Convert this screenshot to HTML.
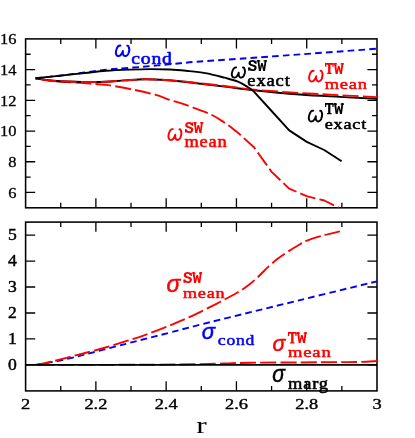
<!DOCTYPE html>
<html><head><meta charset="utf-8"><title>chart</title>
<style>html,body{margin:0;padding:0;background:#fff;}svg{display:block;}svg{will-change:transform;}</style></head><body>
<svg width="415" height="438" viewBox="0 0 415 438">
<rect x="0" y="0" width="415" height="438" fill="#ffffff"/>
<g fill="none" stroke="#000" stroke-width="1.55">
<rect x="25.6" y="38.9" width="351.40" height="168.90"/>
<rect x="25.6" y="222.1" width="351.40" height="168.80"/>
<path d="M60.74 38.90v5M60.74 207.80v-5M60.74 222.10v5M60.74 390.90v-5M95.88 38.90v9.6M95.88 207.80v-9.6M95.88 222.10v9.6M95.88 390.90v-9.6M131.02 38.90v5M131.02 207.80v-5M131.02 222.10v5M131.02 390.90v-5M166.16 38.90v9.6M166.16 207.80v-9.6M166.16 222.10v9.6M166.16 390.90v-9.6M201.30 38.90v5M201.30 207.80v-5M201.30 222.10v5M201.30 390.90v-5M236.44 38.90v9.6M236.44 207.80v-9.6M236.44 222.10v9.6M236.44 390.90v-9.6M271.58 38.90v5M271.58 207.80v-5M271.58 222.10v5M271.58 390.90v-5M306.72 38.90v9.6M306.72 207.80v-9.6M306.72 222.10v9.6M306.72 390.90v-9.6M341.86 38.90v5M341.86 207.80v-5M341.86 222.10v5M341.86 390.90v-5M25.60 192.45h9.6M377.00 192.45h-9.6M25.60 177.09h5M377.00 177.09h-5M25.60 161.74h9.6M377.00 161.74h-9.6M25.60 146.38h5M377.00 146.38h-5M25.60 131.03h9.6M377.00 131.03h-9.6M25.60 115.67h5M377.00 115.67h-5M25.60 100.32h9.6M377.00 100.32h-9.6M25.60 84.96h5M377.00 84.96h-5M25.60 69.61h9.6M377.00 69.61h-9.6M25.60 54.25h5M377.00 54.25h-5M25.60 364.93h9.6M377.00 364.93h-9.6M25.60 338.96h9.6M377.00 338.96h-9.6M25.60 312.99h9.6M377.00 312.99h-9.6M25.60 287.02h9.6M377.00 287.02h-9.6M25.60 261.05h9.6M377.00 261.05h-9.6M25.60 235.08h9.6M377.00 235.08h-9.6" stroke-width="1.3"/>
</g>
<g fill="#000">
<text transform="matrix(1.0300 0 0 0.9500 0.02 44.20)" font-family="Liberation Serif" font-size="16" stroke="#000" stroke-width="0.3">16</text>
<text transform="matrix(1.0300 0 0 0.9500 0.02 74.91)" font-family="Liberation Serif" font-size="16" stroke="#000" stroke-width="0.3">14</text>
<text transform="matrix(1.0300 0 0 0.9500 0.02 105.62)" font-family="Liberation Serif" font-size="16" stroke="#000" stroke-width="0.3">12</text>
<text transform="matrix(1.0300 0 0 0.9500 0.02 136.33)" font-family="Liberation Serif" font-size="16" stroke="#000" stroke-width="0.3">10</text>
<text transform="matrix(1.0300 0 0 0.9500 8.26 167.04)" font-family="Liberation Serif" font-size="16" stroke="#000" stroke-width="0.3">8</text>
<text transform="matrix(1.0300 0 0 0.9500 8.26 197.75)" font-family="Liberation Serif" font-size="16" stroke="#000" stroke-width="0.3">6</text>
<text transform="matrix(1.1000 0 0 1.0100 8.10 370.03)" font-family="Liberation Serif" font-size="16" stroke="#000" stroke-width="0.42">0</text>
<text transform="matrix(1.1000 0 0 1.0100 8.10 344.06)" font-family="Liberation Serif" font-size="16" stroke="#000" stroke-width="0.42">1</text>
<text transform="matrix(1.1000 0 0 1.0100 8.10 318.09)" font-family="Liberation Serif" font-size="16" stroke="#000" stroke-width="0.42">2</text>
<text transform="matrix(1.1000 0 0 1.0100 8.10 292.12)" font-family="Liberation Serif" font-size="16" stroke="#000" stroke-width="0.42">3</text>
<text transform="matrix(1.1000 0 0 1.0100 8.10 266.15)" font-family="Liberation Serif" font-size="16" stroke="#000" stroke-width="0.42">4</text>
<text transform="matrix(1.1000 0 0 1.0100 8.10 240.18)" font-family="Liberation Serif" font-size="16" stroke="#000" stroke-width="0.42">5</text>
<text transform="matrix(1.1500 0 0 0.9000 21.00 408.90)" font-family="Liberation Serif" font-size="16" stroke="#000" stroke-width="0.42">2</text>
<text transform="matrix(1.1500 0 0 0.9000 84.38 408.90)" font-family="Liberation Serif" font-size="16" stroke="#000" stroke-width="0.42">2.2</text>
<text transform="matrix(1.1500 0 0 0.9000 154.66 408.90)" font-family="Liberation Serif" font-size="16" stroke="#000" stroke-width="0.42">2.4</text>
<text transform="matrix(1.1500 0 0 0.9000 224.94 408.90)" font-family="Liberation Serif" font-size="16" stroke="#000" stroke-width="0.42">2.6</text>
<text transform="matrix(1.1500 0 0 0.9000 295.22 408.90)" font-family="Liberation Serif" font-size="16" stroke="#000" stroke-width="0.42">2.8</text>
<text transform="matrix(1.1500 0 0 0.9000 372.40 408.90)" font-family="Liberation Serif" font-size="16" stroke="#000" stroke-width="0.42">3</text>
</g>
<g fill="none" stroke-width="1.9" stroke-linejoin="round">
<path d="M35.60 78.30C41.33 77.65 58.27 75.82 70.00 74.40C81.73 72.98 95.33 70.95 106.00 69.80C116.67 68.65 125.33 68.23 134.00 67.50C142.67 66.77 150.33 66.10 158.00 65.40C165.67 64.70 173.50 63.92 180.00 63.30C186.50 62.68 187.00 62.47 197.00 61.70C207.00 60.93 222.83 59.92 240.00 58.70C257.17 57.48 277.17 56.07 300.00 54.40C322.83 52.73 364.17 49.65 377.00 48.70" stroke="#0000ff" stroke-dasharray="6.65 4.15"/>
<path d="M35.60 78.30C37.67 78.65 43.93 79.85 48.00 80.40C52.07 80.95 55.50 81.23 60.00 81.60C64.50 81.97 70.00 82.27 75.00 82.60C80.00 82.93 84.83 83.22 90.00 83.60C95.17 83.98 99.33 84.00 106.00 84.90C112.67 85.80 121.83 87.37 130.00 89.00C138.17 90.63 148.40 92.90 155.00 94.70C161.60 96.50 164.43 98.10 169.60 99.80C174.77 101.50 179.25 102.52 186.00 104.90C192.75 107.28 203.77 111.20 210.10 114.10C216.43 117.00 219.62 119.42 224.00 122.30C228.38 125.18 234.33 129.88 236.40 131.40L254.0 147.3L271.4 171.6L289.2 188.6L306.7 196.2L324.3 200.5L338.6 207.6" stroke="#ff0000" stroke-dasharray="15.9 4.17"/>
<path d="M35.60 78.30C37.67 78.62 43.93 79.72 48.00 80.20C52.07 80.68 55.50 80.93 60.00 81.20C64.50 81.47 70.00 81.67 75.00 81.80C80.00 81.93 84.83 82.02 90.00 82.00C95.17 81.98 100.17 81.97 106.00 81.70C111.83 81.43 118.58 80.80 125.00 80.40C131.42 80.00 137.83 79.37 144.50 79.30C151.17 79.23 158.08 79.55 165.00 80.00C171.92 80.45 176.08 80.90 186.00 82.00C195.92 83.10 213.22 85.23 224.50 86.60C235.78 87.97 241.12 88.88 253.70 90.20C266.28 91.52 285.62 93.38 300.00 94.50C314.38 95.62 327.17 96.18 340.00 96.90C352.83 97.62 370.83 98.48 377.00 98.80" stroke="#000"/>
<path d="M35.60 78.30C37.67 78.62 43.93 79.72 48.00 80.20C52.07 80.68 55.50 80.93 60.00 81.20C64.50 81.47 70.00 81.67 75.00 81.80C80.00 81.93 84.83 82.02 90.00 82.00C95.17 81.98 100.17 81.97 106.00 81.70C111.83 81.43 118.58 80.80 125.00 80.40C131.42 80.00 137.83 79.37 144.50 79.30C151.17 79.23 158.08 79.58 165.00 80.00C171.92 80.42 176.08 80.80 186.00 81.80C195.92 82.80 213.22 84.68 224.50 86.00C235.78 87.32 241.12 88.53 253.70 89.70C266.28 90.87 285.62 92.08 300.00 93.00C314.38 93.92 327.17 94.52 340.00 95.20C352.83 95.88 370.83 96.78 377.00 97.10" stroke="#ff0000" stroke-dasharray="16 4.2" stroke-dashoffset="15.16"/>
<path d="M35.60 78.30C39.67 77.87 51.77 76.58 60.00 75.70C68.23 74.82 77.33 73.82 85.00 73.00C92.67 72.18 98.50 71.37 106.00 70.80C113.50 70.23 122.67 69.88 130.00 69.60C137.33 69.32 143.33 69.12 150.00 69.10C156.67 69.08 164.00 69.22 170.00 69.50C176.00 69.78 180.12 70.20 186.00 70.80C191.88 71.40 198.88 71.95 205.30 73.10C211.72 74.25 219.05 76.28 224.50 77.70C229.95 79.12 234.13 80.05 238.00 81.60C241.87 83.15 245.08 85.38 247.70 87.00C250.32 88.62 252.70 90.58 253.70 91.30L271.6 111.0L289.2 130.4L306.8 141.9L324.2 150.0L341.6 161.3" stroke="#000"/>
<path d="M35.60 364.93C38.00 364.51 43.60 363.67 50.00 362.40C56.40 361.13 61.33 360.40 74.00 357.30C86.67 354.20 110.30 347.85 126.00 343.80C141.70 339.75 154.20 336.60 168.20 333.00C182.20 329.40 188.03 327.68 210.00 322.20C231.97 316.72 272.17 306.92 300.00 300.10C327.83 293.28 364.17 284.43 377.00 281.30" stroke="#0000ff" stroke-dasharray="6.65 4.15"/>
<path d="M35.60 364.93C38.00 364.44 43.57 363.52 50.00 362.00C56.43 360.48 65.87 357.97 74.20 355.80C82.53 353.63 91.37 351.43 100.00 349.00C108.63 346.57 118.65 343.48 126.00 341.20C133.35 338.92 137.07 337.82 144.10 335.30C151.13 332.78 160.17 329.35 168.20 326.10C176.23 322.85 184.27 319.52 192.30 315.80C200.33 312.08 208.95 307.63 216.40 303.80C223.85 299.97 231.73 295.83 237.00 292.80C242.27 289.77 244.55 288.20 248.00 285.60C251.45 283.00 254.20 280.45 257.70 277.20C261.20 273.95 265.62 269.20 269.00 266.10C272.38 263.00 274.80 261.03 278.00 258.60C281.20 256.17 284.53 253.90 288.20 251.50C291.87 249.10 297.00 245.98 300.00 244.20C303.00 242.42 302.37 242.25 306.20 240.80C310.03 239.35 317.38 237.07 323.00 235.50C328.62 233.93 337.08 232.08 339.90 231.40" stroke="#ff0000" stroke-dasharray="15.9 4.17"/>
<path d="M35.60 364.93C54.67 364.90 122.60 364.86 150.00 364.73C177.40 364.60 187.00 364.36 200.00 364.13C213.00 363.90 219.67 363.56 228.00 363.33C236.33 363.10 238.00 362.88 250.00 362.73C262.00 362.58 285.00 362.53 300.00 362.43C315.00 362.33 330.00 362.21 340.00 362.13C350.00 362.05 353.83 362.11 360.00 361.93C366.17 361.75 374.17 361.18 377.00 361.03" stroke="#ff0000" stroke-dasharray="16 4.2" stroke-dashoffset="17.73"/>
<path d="M25.6 364.93H377.0" stroke="#000" stroke-width="1.7"/>
</g>
<path d="M120.37 45.60C118.95 45.50 117.32 46.91 116.51 49.30C115.59 51.92 115.70 54.31 116.91 55.51C118.03 56.49 119.76 56.27 120.98 54.74C122.10 53.44 122.71 52.13 122.91 51.05C122.71 53.22 123.01 54.96 124.13 55.72C125.45 56.59 127.28 55.83 128.29 53.87C129.31 51.70 129.51 48.43 128.70 46.58C128.39 45.82 127.78 45.50 127.28 45.71" fill="none" stroke="#0000ff" stroke-width="2.0" stroke-linecap="round" stroke-linejoin="round"/>
<text transform="matrix(1.2301 0 0 1.0417 131.13 63.93)" font-family="Liberation Serif" font-size="16" letter-spacing="0.7" fill="#0000ff" stroke="#0000ff" stroke-width="0.55" stroke-linejoin="round">cond</text>
<path d="M236.22 67.35C234.83 67.25 233.24 68.64 232.44 70.98C231.55 73.55 231.65 75.89 232.84 77.07C233.93 78.03 235.62 77.81 236.81 76.32C237.91 75.04 238.50 73.76 238.70 72.69C238.50 74.83 238.80 76.53 239.89 77.28C241.18 78.13 242.97 77.39 243.96 75.47C244.96 73.33 245.16 70.13 244.36 68.32C244.06 67.57 243.47 67.25 242.97 67.46" fill="none" stroke="#000" stroke-width="1.9" stroke-linecap="round" stroke-linejoin="round"/>
<text transform="matrix(0.9789 0 0 1.0338 247.81 71.20)" font-family="Liberation Mono" font-weight="bold" font-size="16" fill="#000">SW</text>
<path d="M255.89 60.70V64.00M248.83 70.80V67.30M256.91 60.92H260.21M263.60 60.92H266.90" fill="none" stroke="#000" stroke-width="1.25"/>
<text transform="matrix(1.1624 0 0 1.0144 247.35 85.92)" font-family="Liberation Serif" font-size="16" letter-spacing="0.7" fill="#000" stroke="#000" stroke-width="0.55" stroke-linejoin="round">exact</text>
<path d="M313.62 70.76C312.20 70.64 310.57 72.09 309.76 74.52C308.84 77.19 308.95 79.63 310.16 80.85C311.28 81.84 313.01 81.62 314.23 80.07C315.35 78.74 315.96 77.41 316.16 76.30C315.96 78.52 316.26 80.29 317.38 81.07C318.70 81.95 320.53 81.18 321.54 79.18C322.56 76.96 322.76 73.64 321.95 71.75C321.64 70.98 321.03 70.64 320.53 70.87" fill="none" stroke="#ff0000" stroke-width="1.9" stroke-linecap="round" stroke-linejoin="round"/>
<text transform="matrix(0.9937 0 0 1.0338 324.53 74.10)" font-family="Liberation Mono" font-weight="bold" font-size="16" fill="#ff0000">TW</text>
<path d="M327.10 73.47H331.50M325.63 63.70V66.80M332.97 63.70V66.80M333.77 63.83H337.07M340.60 63.83H343.90" fill="none" stroke="#ff0000" stroke-width="1.25"/>
<text transform="matrix(1.1515 0 0 0.9736 324.69 88.72)" font-family="Liberation Serif" font-size="16" letter-spacing="0.7" fill="#ff0000" stroke="#ff0000" stroke-width="0.55" stroke-linejoin="round">mean</text>
<path d="M313.28 110.66C311.87 110.54 310.26 112.00 309.45 114.46C308.55 117.15 308.65 119.61 309.86 120.84C310.97 121.85 312.68 121.62 313.89 120.06C315.00 118.71 315.60 117.37 315.81 116.25C315.60 118.49 315.91 120.28 317.02 121.06C318.33 121.96 320.14 121.18 321.15 119.16C322.16 116.92 322.36 113.56 321.55 111.66C321.25 110.88 320.65 110.54 320.14 110.77" fill="none" stroke="#000" stroke-width="1.9" stroke-linecap="round" stroke-linejoin="round"/>
<text transform="matrix(0.9937 0 0 1.0338 324.53 114.30)" font-family="Liberation Mono" font-weight="bold" font-size="16" fill="#000">TW</text>
<path d="M327.10 113.67H331.50M325.63 103.90V107.00M332.97 103.90V107.00M333.77 104.03H337.07M340.60 104.03H343.90" fill="none" stroke="#000" stroke-width="1.25"/>
<text transform="matrix(1.1373 0 0 0.9736 324.66 128.82)" font-family="Liberation Serif" font-size="16" letter-spacing="0.7" fill="#000" stroke="#000" stroke-width="0.55" stroke-linejoin="round">exact</text>
<path d="M172.75 129.16C171.38 129.04 169.82 130.50 169.04 132.96C168.16 135.65 168.25 138.11 169.43 139.34C170.50 140.35 172.16 140.12 173.34 138.56C174.41 137.21 175.00 135.87 175.19 134.75C175.00 136.99 175.29 138.78 176.37 139.56C177.64 140.46 179.40 139.68 180.38 137.66C181.35 135.42 181.55 132.06 180.77 130.16C180.47 129.38 179.89 129.04 179.40 129.27" fill="none" stroke="#ff0000" stroke-width="1.9" stroke-linecap="round" stroke-linejoin="round"/>
<text transform="matrix(0.9578 0 0 1.0243 184.62 133.00)" font-family="Liberation Mono" font-weight="bold" font-size="16" fill="#ff0000">SW</text>
<path d="M192.51 122.60V125.90M185.63 132.60V129.10M193.51 122.83H196.81M200.00 122.83H203.30" fill="none" stroke="#ff0000" stroke-width="1.25"/>
<text transform="matrix(1.1487 0 0 0.9872 184.49 147.32)" font-family="Liberation Serif" font-size="16" letter-spacing="0.7" fill="#ff0000" stroke="#ff0000" stroke-width="0.55" stroke-linejoin="round">mean</text>
<text transform="matrix(1.0436 0 0 1.0475 166.59 292.02)" font-family="Liberation Sans" font-style="italic" font-size="22" fill="#ff0000" stroke="#ff0000" stroke-width="0.5">σ</text>
<text transform="matrix(0.9789 0 0 1.0432 183.11 283.40)" font-family="Liberation Mono" font-weight="bold" font-size="16" fill="#ff0000">SW</text>
<path d="M191.19 272.80V276.10M184.13 283.00V279.50M192.21 273.02H195.51M198.90 273.02H202.20" fill="none" stroke="#ff0000" stroke-width="1.25"/>
<text transform="matrix(1.1349 0 0 0.9055 182.89 297.83)" font-family="Liberation Serif" font-size="16" letter-spacing="0.7" fill="#ff0000" stroke="#ff0000" stroke-width="0.55" stroke-linejoin="round">mean</text>
<text transform="matrix(0.9982 0 0 1.0390 201.82 338.83)" font-family="Liberation Sans" font-style="italic" font-size="22" fill="#0000ff" stroke="#0000ff" stroke-width="0.5">σ</text>
<text transform="matrix(1.1004 0 0 0.8919 217.80 345.43)" font-family="Liberation Serif" font-size="16" letter-spacing="0.7" fill="#0000ff" stroke="#0000ff" stroke-width="0.55" stroke-linejoin="round">cond</text>
<text transform="matrix(0.9680 0 0 1.0390 272.44 351.23)" font-family="Liberation Sans" font-style="italic" font-size="22" fill="#ff0000" stroke="#ff0000" stroke-width="0.5">σ</text>
<text transform="matrix(1.0043 0 0 1.0338 287.42 343.40)" font-family="Liberation Mono" font-weight="bold" font-size="16" fill="#ff0000">TW</text>
<path d="M290.04 342.77H294.44M288.53 333.00V336.10M295.96 333.00V336.10M296.76 333.12H300.06M303.70 333.12H307.00" fill="none" stroke="#ff0000" stroke-width="1.25"/>
<text transform="matrix(1.1598 0 0 0.9191 288.09 357.23)" font-family="Liberation Serif" font-size="16" letter-spacing="0.7" fill="#ff0000" stroke="#ff0000" stroke-width="0.55" stroke-linejoin="round">mean</text>
<text transform="matrix(0.9528 0 0 1.0559 272.25 382.22)" font-family="Liberation Sans" font-style="italic" font-size="22" fill="#000" stroke="#000" stroke-width="0.5">σ</text>
<text transform="matrix(1.1519 0 0 0.9872 288.09 388.62)" font-family="Liberation Serif" font-size="16" letter-spacing="0.7" fill="#000" stroke="#000" stroke-width="0.55" stroke-linejoin="round">marg</text>
<text transform="matrix(1.3149 0 0 0.9996 196.17 433.40)" font-family="Liberation Serif" font-size="24" fill="#000">r</text>
</svg></body></html>
